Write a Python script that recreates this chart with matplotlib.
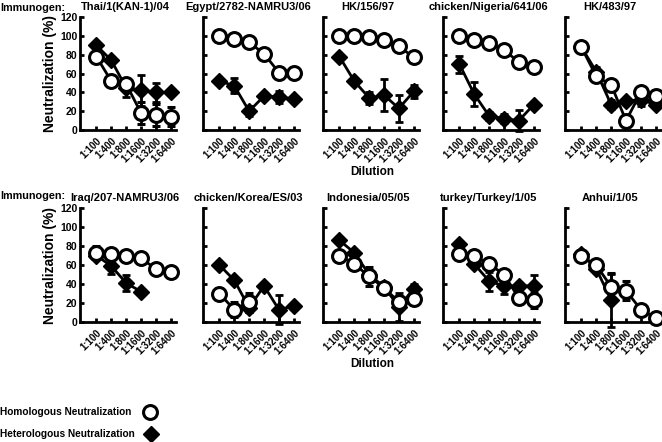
import numpy as np
import matplotlib
matplotlib.use("Agg")
import matplotlib.pyplot as plt
from matplotlib.lines import Line2D

plt.rcParams['font.family'] = ['Liberation Sans', 'DejaVu Sans']
plt.rcParams['font.weight'] = 'bold'

dilutions = ["1:100", "1:400", "1:800", "1:1600", "1:3200", "1:6400"]
titles = ["Thai/1(KAN-1)/04", "Egypt/2782-NAMRU3/06", "HK/156/97",
          "chicken/Nigeria/641/06", "HK/483/97",
          "Iraq/207-NAMRU3/06", "chicken/Korea/ES/03", "Indonesia/05/05",
          "turkey/Turkey/1/05", "Anhui/1/05"]
nan = np.nan
homologous = [
    [78, 52, 49, 18, 16, 14],
    [100, 97, 93, 81, 61, 61],
    [100, 100, 99, 96, 89, 77],
    [100, 96, 92, 85, 72, 67],
    [88, 57, 48, 10, 40, 36],
    [73, 72, 70, 67, 56, 53],
    [30, 13, 21, nan, nan, nan],
    [70, 61, 48, 36, 21, 24],
    [72, 69, 61, 50, 25, 23],
    [69, 60, 37, 33, 13, 4],
]
homologous_err = [
    [0, 0, 0, 12, 12, 10],
    [0, 0, 0, 0, 5, 6],
    [0, 0, 0, 0, 0, 0],
    [0, 0, 0, 0, 0, 0],
    [3, 5, 5, 0, 4, 6],
    [7, 0, 0, 0, 0, 0],
    [6, 8, 10, 0, 0, 0],
    [0, 3, 10, 0, 0, 6],
    [0, 0, 0, 0, 6, 8],
    [0, 0, 15, 10, 0, 0],
]
heterologous = [
    [90, 74, 45, 42, 40, 40],
    [52, 47, 20, 36, 35, 33],
    [78, 52, 34, 37, 23, 41],
    [70, 38, 15, 12, 10, 27],
    [88, 62, 27, 31, 32, 27],
    [70, 59, 41, 32, nan, nan],
    [60, 44, 15, 38, 13, 17],
    [86, 73, 50, 37, 16, 35],
    [82, 61, 43, 38, 38, 38],
    [72, 56, 23, nan, nan, nan],
]
heterologous_err = [
    [3, 3, 10, 16, 10, 3],
    [3, 8, 5, 3, 6, 0],
    [3, 3, 6, 17, 14, 7],
    [9, 13, 4, 5, 11, 2],
    [2, 5, 5, 3, 7, 3],
    [0, 8, 8, 0, 0, 0],
    [0, 0, 4, 0, 15, 0],
    [0, 0, 0, 0, 15, 5],
    [0, 0, 10, 8, 3, 11],
    [0, 0, 28, 0, 0, 0],
]
yticks = [0, 20, 40, 60, 80, 100, 120]

W, H = 662, 442
fig = plt.figure(figsize=(W / 100, H / 100), dpi=100)

lefts = [80, 203, 323, 443, 565]
rows = [(17, 130), (208, 322)]  # (top, bottom) in px
axw = 96
x = np.arange(len(dilutions))

for i in range(10):
    r, c = divmod(i, 5)
    top, bot = rows[r]
    ax = fig.add_axes([lefts[c] / W, 1 - bot / H, axw / W, (bot - top) / H])
    ax.errorbar(x, heterologous[i], yerr=heterologous_err[i], color='black',
                marker='D', ms=8, mfc='black', mec='black', lw=2,
                elinewidth=2, capsize=3, capthick=2, zorder=2, clip_on=False)
    ax.errorbar(x, homologous[i], yerr=homologous_err[i], color='black',
                marker='o', ms=10, mfc='white', mec='black', mew=2.2, lw=2,
                elinewidth=2, capsize=3, capthick=2, zorder=3, clip_on=False)
    ax.set_xlim(-1.1, 5.35)
    ax.set_ylim(0, 120)
    ax.set_yticks(yticks)
    ax.set_xticks(x)
    ax.set_xticklabels(dilutions, rotation=45, ha='right', rotation_mode='anchor',
                       fontsize=7, fontweight='bold')
    for s in ['top', 'right']:
        ax.spines[s].set_visible(False)
    for s in ['left', 'bottom']:
        ax.spines[s].set_linewidth(2)
    ax.tick_params(width=2, length=3, direction='in')
    ax.tick_params(axis='y', pad=2)
    ax.tick_params(axis='x', pad=4)
    if c == 0:
        ax.set_yticklabels([str(v) for v in yticks], fontsize=7.5, fontweight='bold')
        ax.set_ylabel("Neutralization (%)", fontsize=10, fontweight='bold', labelpad=2)
    else:
        ax.set_yticklabels([])
    ax.set_title(titles[i], fontsize=8, fontweight='bold', pad=5, x=0.47)

# Immunogen labels
fig.text(0 / W, 1 - 8 / H, "Immunogen:", fontsize=7.8, fontweight='bold', va='center', ha='left')
fig.text(0 / W, 1 - 196 / H, "Immunogen:", fontsize=7.8, fontweight='bold', va='center', ha='left')

# Dilution labels
fig.text(372 / W, 1 - 172 / H, "Dilution", fontsize=8.5, fontweight='bold', va='center', ha='center')
fig.text(372 / W, 1 - 364 / H, "Dilution", fontsize=8.5, fontweight='bold', va='center', ha='center')

# Legend
fig.text(0 / W, 1 - 412 / H, "Homologous Neutralization", fontsize=7.3, fontweight='bold', va='center')
fig.text(0 / W, 1 - 434 / H, "Heterologous Neutralization", fontsize=7.3, fontweight='bold', va='center')
fig.add_artist(Line2D([150 / W], [1 - 412 / H], marker='o', ms=10, mfc='white', mec='black',
                      mew=2.2, transform=fig.transFigure))
fig.add_artist(Line2D([151 / W], [1 - 434 / H], marker='D', ms=8, mfc='black', mec='black',
                      transform=fig.transFigure))

fig.savefig("out.png", dpi=100)
